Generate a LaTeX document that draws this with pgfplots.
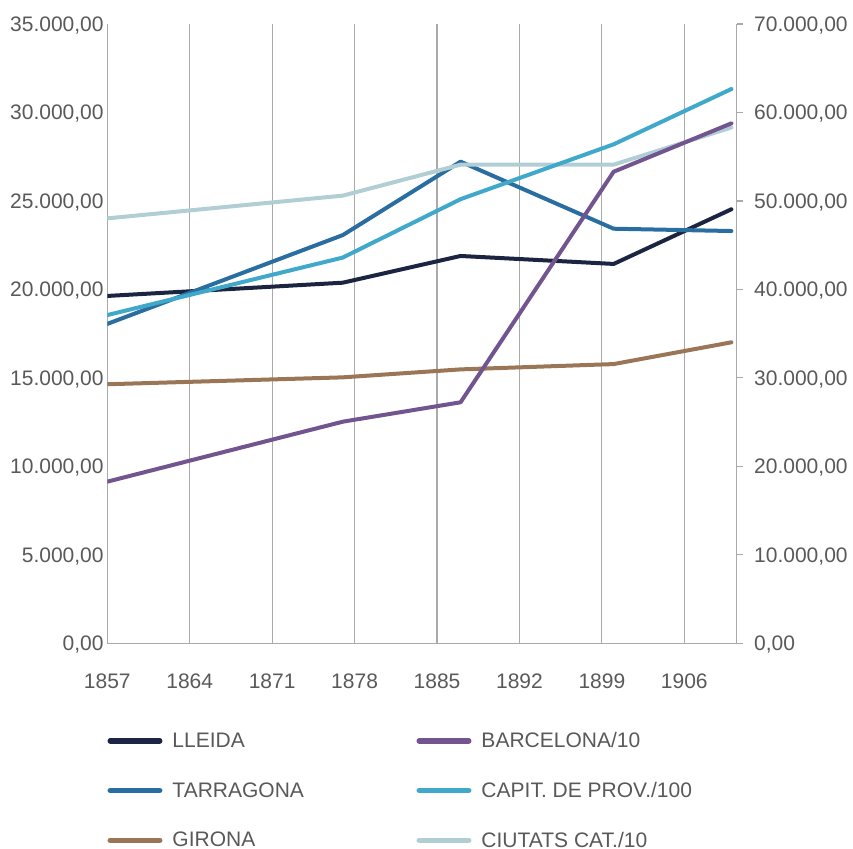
\documentclass[border=0pt]{standalone}
\usepackage{pgfplots}
\pgfplotsset{compat=1.18}
\usepackage{fontspec}
\setmainfont{Liberation Sans}
\definecolor{cLle}{HTML}{1B2440}
\definecolor{cTar}{HTML}{2A6DA0}
\definecolor{cGir}{HTML}{9A7656}
\definecolor{cBar}{HTML}{72558F}
\definecolor{cCap}{HTML}{40A9CB}
\definecolor{cCiu}{HTML}{B2CED5}
\definecolor{cGrid}{HTML}{AAAAAA}
\definecolor{cText}{HTML}{595959}
\pgfplotsset{
  common/.style={
    scale only axis, width=629.4bp, height=619.3bp,
    at={(0,0)}, anchor=south west,
    xmin=1857, xmax=1910.45, ymin=0,
    scaled y ticks=false, scaled x ticks=false,
    tick label style={font=\fontsize{21bp}{25bp}\selectfont, text=cText},
    /pgf/number format/assume math mode=true,
  },
  ser/.style={line width=4bp, line join=round, line cap=round},
}
\begin{document}
\begin{tikzpicture}
\path[use as bounding box] (-107.3bp,-205.7bp) rectangle (745.7bp,643.3bp);
\begin{axis}[common,
  ymax=35000,
  axis x line*=bottom, axis y line*=left,
  axis line style={cGrid, line width=1.2bp},
  xtick={1857,1864,1871,1878,1885,1892,1899,1906},
  xticklabels={1857,1864,1871,1878,1885,1892,1899,1906},
  xmajorgrids, grid style={cGrid, line width=1.2bp},
  major tick length=0pt,
  ytick={0,5000,10000,15000,20000,25000,30000,35000},
  yticklabels={{0,00},{5.000,00},{10.000,00},{15.000,00},{20.000,00},{25.000,00},{30.000,00},{35.000,00}},
  xticklabel style={inner sep=0pt, yshift=-30.5bp},
  yticklabel style={anchor=base east, inner sep=0pt, xshift=-3.5bp, yshift=-7.5bp},
]
\addplot[ser, cLle] coordinates {(1857,19630) (1877,20380) (1887,21890) (1900,21440) (1910,24530)};
\addplot[ser, cTar] coordinates {(1857,18050) (1877,23070) (1887,27220) (1900,23430) (1910,23300)};
\addplot[ser, cGir] coordinates {(1857,14640) (1877,15030) (1887,15480) (1900,15780) (1910,17010)};
\end{axis}
\begin{axis}[common,
  ymax=70000,
  axis x line=none, axis y line*=right,
  axis line style={cGrid, line width=1.2bp},
  ytick={0,10000,20000,30000,40000,50000,60000,70000},
  yticklabels={{0,00},{10.000,00},{20.000,00},{30.000,00},{40.000,00},{50.000,00},{60.000,00},{70.000,00}},
  tick align=outside, major tick length=6.7bp,
  tick style={cGrid, line width=1.2bp},
  yticklabel style={anchor=base west, inner sep=0pt, xshift=10.6bp, yshift=-7.5bp},
  legend columns=2,
  legend cell align=left,
  legend style={at={(0,0)}, anchor=north west, yshift=-89bp, draw=none, fill=none,
    inner sep=0pt, column sep=0pt, row sep=33bp,
    font=\fontsize{21bp}{25bp}\selectfont, text=cText,
    nodes={inner sep=0pt},
    /tikz/every odd column/.append style={column sep=10bp}},
  legend image code/.code={\draw[#1, line width=5.5bp, line cap=round] (2.75bp,0bp) -- (52.25bp,0bp);},
]
\addplot[ser, cCiu, forget plot] coordinates {(1857,48030) (1877,50600) (1887,54100) (1900,54100) (1910,58300)};
\addplot[ser, cCap, forget plot] coordinates {(1857,37100) (1877,43600) (1887,50200) (1900,56400) (1910,62650)};
\addplot[ser, cBar, forget plot] coordinates {(1857,18270) (1877,25050) (1887,27240) (1900,53300) (1910,58770)};
\addlegendimage{cLle}\addlegendentry{\makebox[244bp][l]{LLEIDA}}
\addlegendimage{cBar}\addlegendentry{BARCELONA/10}
\addlegendimage{cTar}\addlegendentry{\makebox[244bp][l]{TARRAGONA}}
\addlegendimage{cCap}\addlegendentry{CAPIT. DE PROV./100}
\addlegendimage{cGir}\addlegendentry{\makebox[244bp][l]{GIRONA}}
\addlegendimage{cCiu}\addlegendentry{CIUTATS CAT./10}
\end{axis}
\end{tikzpicture}
\end{document}
